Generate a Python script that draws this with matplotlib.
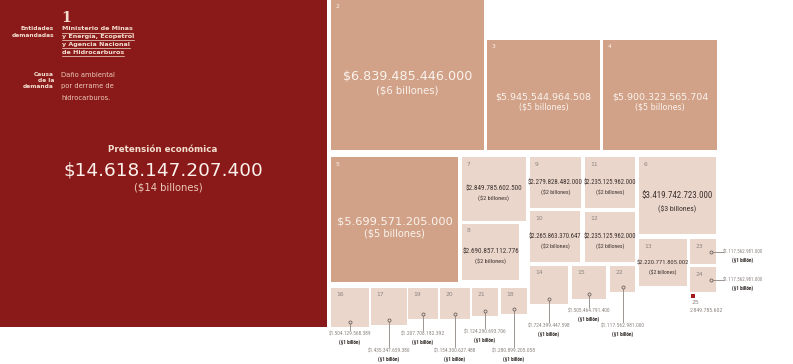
import matplotlib
matplotlib.use("Agg")
import matplotlib.pyplot as plt
from matplotlib.patches import Rectangle

# ---------------- data ----------------
ids = list(range(1, 26))
values = [14618147207400, 6839485446000, 5945544964508, 5900323565704, 5699571205000,
          3419742723000, 2849785602500, 2690857112776, 2279828482000, 2265863370647,
          2235125962000, 2235125962000, 2220771805002, 1724399447598, 1505464791400,
          1504129568389, 1435347659380, 1280899205058, 1207708182392, 1154300627488,
          1124290693706, 1117562981000, 1117562981000, 1117562981000, 2849785602]
entidades = ["Ministerio de Minas", "y Energía, Ecopetrol", "y Agencia Nacional", "de Hidrocarburos"]
causa = ["Daño ambiental", "por derrame de", "hidrocarburos."]
titulo = "Pretensión económica"

# ---------------- layout (pixel boxes: x0, y0, x1, y1) ----------------
W, H = 793, 364
boxes = {
    1: (0, 0, 327, 327),
    2: (331, 0, 484, 150), 3: (487, 40, 600, 150), 4: (603, 40, 717, 150),
    5: (331, 157, 458, 282), 7: (462, 157, 526, 221), 8: (462, 224, 519, 280),
    9: (530, 157, 581, 208), 10: (530, 211, 580, 262), 11: (585, 157, 635, 208),
    12: (585, 212, 635, 262), 6: (639, 157, 716, 234), 13: (639, 239, 687, 286),
    23: (690, 239, 716, 264), 24: (690, 267, 716, 292), 25: (691, 294, 695, 298),
    14: (530, 266, 568, 304), 15: (572, 266, 606, 299), 22: (610, 266, 635, 292),
    16: (331, 288, 369, 327), 17: (371, 288, 407, 325), 19: (408, 288, 438, 319),
    20: (440, 288, 470, 319), 21: (472, 288, 498, 316), 18: (501, 288, 527, 314),
}
tan_ids = {2, 3, 4, 5}
big_font = {2: 9.2, 3: 6.8, 4: 6.8, 5: 8.2}
big_sub = {2: 7.2, 3: 5.8, 4: 5.8, 5: 7.0}
mid_width = {6: 70, 7: 56, 8: 56, 9: 54, 10: 53, 11: 52, 12: 52, 13: 51}
callout_y = {16: 334, 17: 351, 19: 334, 20: 351, 21: 332, 18: 351, 14: 326, 15: 311, 22: 326}
side_ids = {23, 24}

RED = "#8a1a1a"
TAN = "#d1a288"
LIGHT = "#ebd6cb"
CREAM = "#f3dfcf"
DARK = "#3b312e"
GREY = "#8c8480"

NARROW = ["Roboto Condensed", "Roboto", "DejaVu Sans"]


def fmt(v, dollar=True):
    s = f"{v:,}".replace(",", ".")
    return ("$" + s) if dollar else s


def billones(v):
    n = v // 10**12
    return f"(${n} billón)" if n == 1 else f"(${n} billones)"


fig = plt.figure(figsize=(W / 100, H / 100), dpi=100)
ax = fig.add_axes([0, 0, 1, 1])
ax.set_xlim(0, W)
ax.set_ylim(H, 0)
ax.axis("off")
renderer = fig.canvas.get_renderer()


def fit_text(x, y, s, target_w, **kw):
    t = ax.text(x, y, s, fontsize=10, family=NARROW, fontstretch="condensed", **kw)
    w = t.get_window_extent(renderer).width
    t.set_fontsize(10 * target_w / w)
    return t


val = dict(zip(ids, values))

for i in ids:
    x0, y0, x1, y1 = boxes[i]
    if i == 1:
        color = RED
    elif i == 25:
        color = "#a01c1c"
    elif i in tan_ids:
        color = TAN
    else:
        color = LIGHT
    ax.add_patch(Rectangle((x0, y0), x1 - x0, y1 - y0, facecolor=color, edgecolor="none"))
    cx, cy = (x0 + x1) / 2, (y0 + y1) / 2
    v = val[i]
    if i == 1:
        continue
    if i == 25:
        ax.text(x0, y1 + 4.5, "25", fontsize=4.5, color=GREY, ha="left", va="center")
        fit_text(x0 - 1, y1 + 13, fmt(v, False), 33, color=GREY, ha="left", va="center")
        continue
    ax.text(x0 + 5, y0 + 7, str(i), fontsize=4.3,
            color=("#fbf3ee" if i in tan_ids else GREY), ha="left", va="center")
    if i in tan_ids:
        ax.text(cx, cy + 2, fmt(v), fontsize=big_font[i], color="#fbf3ee",
                ha="center", va="center")
        ax.text(cx, cy + 2 + big_font[i] * 1.5, billones(v), fontsize=big_sub[i],
                color="#fbf3ee", ha="center", va="center")
    elif i in mid_width:
        tw = mid_width[i]
        big = i == 6
        fit_text(cx, cy, fmt(v), tw, color=DARK, ha="center", va="center")
        fit_text(cx, cy + (14 if big else 9.5), billones(v), tw * 0.55,
                 color=DARK, ha="center", va="center")
    elif i in side_ids:
        mx, my = x1 - 5, cy
        ax.plot([mx, x1 + 7], [my, my], color=GREY, lw=0.6)
        ax.plot(mx, my, marker="o", ms=2.2, mfc=LIGHT, mec="#6d6460", mew=0.6)
        fit_text(x1 + 7, my, fmt(v), 40, color=GREY, ha="left", va="center")
        fit_text(x1 + 27, my + 8.5, billones(v), 22, color="#2e2624",
                 ha="center", va="center", fontweight="bold")
    else:
        mx, my = cx, y1 - 5
        ty = callout_y[i]
        ax.plot([mx, mx], [my, ty - 4], color=GREY, lw=0.6)
        ax.plot(mx, my, marker="o", ms=2.2, mfc=LIGHT, mec="#6d6460", mew=0.6)
        fit_text(mx, ty, fmt(v), 43, color=GREY, ha="center", va="center")
        fit_text(mx, ty + 8.5, billones(v), 22, color="#2e2624",
                 ha="center", va="center", fontweight="bold")

# ---------------- left panel text ----------------
ax.text(66, 18, "1", fontsize=10, fontweight="bold", family="DejaVu Serif",
        color=CREAM, ha="center", va="center")
ax.text(54, 29, "Entidades", fontsize=4.2, fontweight="bold", color=CREAM, ha="right", va="center")
ax.text(54, 35.5, "demandadas", fontsize=4.2, fontweight="bold", color=CREAM, ha="right", va="center")

inv = ax.transData.inverted()
for k, line in enumerate(entidades):
    y = 29 + k * 7.7
    t = ax.text(62, y, line, fontsize=4.6, fontweight="bold", color=CREAM, ha="left", va="center")
    bb = t.get_window_extent(renderer)
    (xa, _), (xb, _) = inv.transform([(bb.x0, bb.y0), (bb.x1, bb.y0)])
    ax.plot([xa, xb], [y + 3.6, y + 3.6], color=CREAM, lw=0.5)

for k, line in enumerate(["Causa", "de la", "demanda"]):
    ax.text(54, 74 + k * 6, line, fontsize=4.2, fontweight="bold", color=CREAM, ha="right", va="center")
for k, line in enumerate(causa):
    ax.text(61, 75 + k * 11.3, line, fontsize=4.9, color="#ecc9b8", ha="left", va="center")

ax.text(163, 149, titulo, fontsize=6.3, fontweight="bold", color=CREAM, ha="center", va="center")
ax.text(163, 170, fmt(val[1]), fontsize=13.3, color="#fbf1ea", ha="center", va="center")
ax.text(168, 187.5, billones(val[1]), fontsize=7.2, color="#ecc9b8", ha="center", va="center")

fig.savefig("out.png", dpi=100)
